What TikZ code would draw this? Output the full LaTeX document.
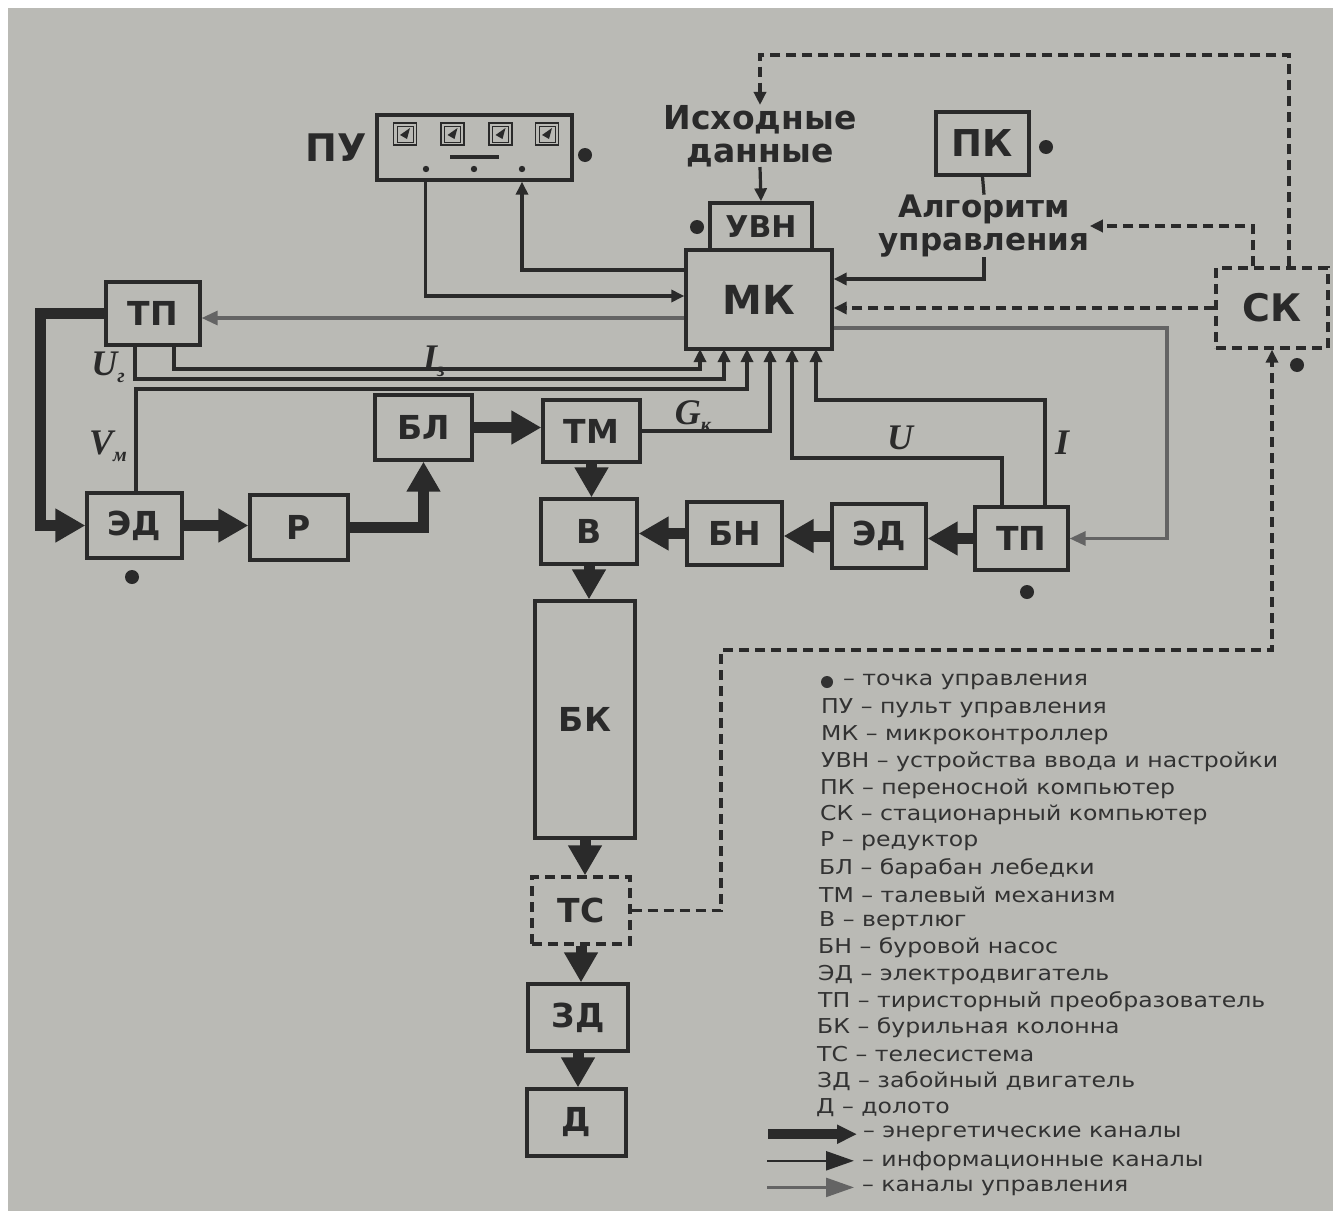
\documentclass[tikz,border=0pt]{standalone}
\usepackage{fontspec}
\setmainfont{DejaVu Sans}
\newfontfamily\varfont{Liberation Serif}
\newfontfamily\legfont{DejaVu Sans}
\usetikzlibrary{arrows.meta,calc}
\definecolor{paper}{RGB}{186,186,181}
\definecolor{ink}{RGB}{42,42,42}
\definecolor{ctrl}{RGB}{100,100,100}
\definecolor{legink}{RGB}{50,50,50}
\newcommand{\vlab}[2]{{\varfont\bfseries\itshape\fontsize{36}{36}\selectfont #1\raisebox{-7pt}{\fontsize{20}{20}\selectfont #2}}}
\newcommand{\legtext}[1]{\scalebox{1.15}[1]{\legfont\fontsize{20.5}{20.5}\selectfont #1}}
\begin{document}
\begin{tikzpicture}[x=1pt,y=-1pt,
  blk/.style={draw=ink,line width=3.3pt,fill=paper,inner sep=0pt,text=ink,
     font=\bfseries\fontsize{33}{33}\selectfont},
  dblk/.style={blk,dash pattern=on 10pt off 6pt},
  info/.style={draw=ink,line width=3.2pt,-{Triangle[length=13pt,width=12pt]}},
  ctl/.style={draw=ctrl,line width=3.2pt,-{Triangle[length=16pt,width=14pt]}},
  dsh/.style={draw=ink,line width=3.4pt,dash pattern=on 10pt off 6pt,-{Triangle[length=13pt,width=12pt]}},
  energy/.style={draw=ink,line width=11pt,-{Triangle[length=30pt,width=32pt]}},
  txt/.style={inner sep=0pt,text=ink},
  big/.style={txt,font=\bfseries\fontsize{33}{33}\selectfont,align=center},
  var/.style={txt},
  leg/.style={inner sep=0pt,anchor=west,text=legink},
  cdot/.style={fill=ink}
]
\useasboundingbox (0,0) rectangle (1341,1218);
\fill[white] (0,0) rectangle (1341,1218);
\fill[paper] (8,8) rectangle (1333,1211);

% ---------- blocks ----------
\node[blk,minimum width=195pt,minimum height=65pt] (pu) at (474.5,147.5) {};
\node[blk,minimum width=102pt,minimum height=47pt,font=\bfseries\fontsize{30}{30}\selectfont] (uvn) at (761,226.5) {УВН};
\node[blk,minimum width=146pt,minimum height=99pt,font=\bfseries\fontsize{40}{40}\selectfont] (mk) at (759,299.5) {МК};
\node[blk,minimum width=93pt,minimum height=63pt,font=\bfseries\fontsize{37}{37}\selectfont] (pk) at (982.5,143.5) {ПК};
\node[dblk,minimum width=112pt,minimum height=80pt,font=\bfseries\fontsize{38}{38}\selectfont] (sk) at (1272,308) {СК};
\node[blk,minimum width=94pt,minimum height=63pt] (tp1) at (153,313.5) {ТП};
\node[blk,minimum width=97pt,minimum height=65pt] (bl) at (423.5,427.5) {БЛ};
\node[blk,minimum width=97pt,minimum height=62pt] (tm) at (591.5,431) {ТМ};
\node[blk,minimum width=95pt,minimum height=65pt] (ed1) at (134.5,525.5) {ЭД};
\node[blk,minimum width=98pt,minimum height=65pt] (r) at (299,527.5) {Р};
\node[blk,minimum width=96pt,minimum height=65pt] (b) at (589,531.5) {В};
\node[blk,minimum width=95pt,minimum height=63pt] (bn) at (734.5,533.5) {БН};
\node[blk,minimum width=94pt,minimum height=64pt] (ed2) at (879,536) {ЭД};
\node[blk,minimum width=93pt,minimum height=63pt] (tp2) at (1021.5,538.5) {ТП};
\node[blk,minimum width=100pt,minimum height=237pt] (bk) at (585,719.5) {БК};
\node[dblk,minimum width=98pt,minimum height=67pt] (ts) at (581,910.5) {ТС};
\node[blk,minimum width=100pt,minimum height=67pt] (zd) at (578,1017.5) {ЗД};
\node[blk,minimum width=99pt,minimum height=67pt] (d) at (576.5,1122.5) {Д};

% ПУ panel details
\foreach \cx in {405,452.5,500.5,547} {
  \draw[ink,line width=1.8pt] (\cx-11.5,123) rectangle (\cx+11.5,145);
  \draw[ink,line width=0.8pt] (\cx-8,126) rectangle (\cx+8,142);
  \fill[ink] (\cx+5,128) -- (\cx-5,135) -- (\cx+2,139) -- cycle;
}
\draw[ink,line width=3.5pt] (450,157) -- (499,157);
\foreach \cx in {426,474,522} \fill[ink] (\cx,169) circle (3.2pt);

% ---------- texts ----------
\node[txt,font=\bfseries\fontsize{38}{38}\selectfont] (pulab) at (336,148) {ПУ};
\node[big] (ish) at (760,136) {Исходные\\данные};
\node[big,font=\bfseries\fontsize{31}{33}\selectfont] (alg) at (984,226) {Алгоритм\\управления};

\node[var] (lUr) at (108,367) {\vlab{U}{г}};
\node[var] (lIz) at (434,361) {\vlab{I}{з}};
\node[var] (lVm) at (108,446) {\vlab{V}{м}};
\node[var] (lGk) at (693,416) {\vlab{G}{к}};
\node[var] (lU) at (900,441) {\vlab{U}{}};
\node[var] (lI) at (1062,446) {\vlab{I}{}};

% control points (dots)
\fill[cdot] (585,155) circle (7pt);
\fill[cdot] (697,227) circle (7pt);
\fill[cdot] (1046,147) circle (7pt);
\fill[cdot] (1297,365) circle (7pt);
\fill[cdot] (132,577) circle (7pt);
\fill[cdot] (1027,592) circle (7pt);

% ---------- MK bottom inputs ----------
\coordinate (mkb1) at (700,349);
\coordinate (mkb2) at (724,349);
\coordinate (mkb3) at (747,349);
\coordinate (mkb4) at (770,349);
\coordinate (mkb5) at (792,349);
\coordinate (mkb6) at (816,349);

% information channels
\draw[info] ([xshift=-49pt]pu.south) |- (mk.west |- 0,296);
\draw[info] (mk.west |- 0,270) -| ([xshift=47.5pt]pu.south);
\draw[info] (ish.south) -- (uvn.north);
\draw[draw=ink,line width=3.2pt] (pk.south) -- (alg.north);
\draw[info] (alg.south) |- (mk.east |- 0,279);
\draw[info] ([xshift=21pt]tp1.south) |- (mkb1 |- 0,369) -- (mkb1);
\draw[info] ([xshift=-18pt]tp1.south) |- (mkb2 |- 0,379) -- (mkb2);
\draw[info] ([xshift=1.5pt]ed1.north) |- (mkb3 |- 0,389) -- (mkb3);
\draw[info] (tm.east) -| (mkb4);
\draw[info] ([xshift=-19.5pt]tp2.north) |- (mkb5 |- 0,458) -- (mkb5);
\draw[info] ([xshift=23.5pt]tp2.north) |- (mkb6 |- 0,400) -- (mkb6);

% control channels
\draw[ctl] (mk.west |- 0,318) -- (tp1.east |- 0,318);
\draw[ctl] (mk.east |- 0,328) -- (1167,328) |- (tp2.east);

% dashed (computer links)
\draw[dsh] (sk.west) -- (mk.east |- sk.west);
\draw[dsh] ([xshift=-19pt]sk.north) |- (alg.east);
\draw[dsh] ([xshift=17pt]sk.north) |- (ish.north |- 0,55) -- (ish.north);
\draw[dsh] (ts.east) -| (721,650) -| (sk.south);

% energy channels
\draw[energy] (tp1.west) -- ++(-64,0) |- (ed1.west);
\draw[energy] (ed1.east) -- (r.west |- ed1.east);
\draw[energy] (r.east) -| (bl.south);
\draw[energy] (bl.east) -- (tm.west |- bl.east);
\draw[energy] (tm.south) -- (tm.south |- b.north);
\draw[energy] (b.south) -- (b.south |- bk.north);
\draw[energy] (bk.south) -- (bk.south |- ts.north);
\draw[energy] (ts.south) -- (ts.south |- zd.north);
\draw[energy] (zd.south) -- (zd.south |- d.north);
\draw[energy] (tp2.west) -- (ed2.east |- tp2.west);
\draw[energy] (ed2.west) -- (bn.east |- ed2.west);
\draw[energy] (bn.west) -- (b.east |- bn.west);

% ---------- legend ----------
\fill[legink] (827,682) circle (6pt);
\node[leg] (g1) at (843,682) {\legtext{– точка управления}};
\node[leg] (g2) at (821,708.6) {\legtext{ПУ – пульт управления}};
\node[leg] (g3) at (821,735.2) {\legtext{МК – микроконтроллер}};
\node[leg] (g4) at (821,761.8) {\legtext{УВН – устройства ввода и настройки}};
\node[leg] (g5) at (820,788.4) {\legtext{ПК – переносной компьютер}};
\node[leg] (g6) at (820,815) {\legtext{СК – стационарный компьютер}};
\node[leg] (g7) at (820,841.6) {\legtext{Р – редуктор}};
\node[leg] (g8) at (819,868.2) {\legtext{БЛ – барабан лебедки}};
\node[leg] (g9) at (819,894.8) {\legtext{ТМ – талевый механизм}};
\node[leg] (g10) at (819,921.4) {\legtext{В – вертлюг}};
\node[leg] (g11) at (818,948) {\legtext{БН – буровой насос}};
\node[leg] (g12) at (818,974.6) {\legtext{ЭД – электродвигатель}};
\node[leg] (g13) at (818,1001.2) {\legtext{ТП – тиристорный преобразователь}};
\node[leg] (g14) at (817,1027.8) {\legtext{БК – бурильная колонна}};
\node[leg] (g15) at (817,1054.4) {\legtext{ТС – телесистема}};
\node[leg] (g16) at (817,1081) {\legtext{ЗД – забойный двигатель}};
\node[leg] (g17) at (816,1107.6) {\legtext{Д – долото}};
\node[leg] (g18) at (863,1134.2) {\legtext{– энергетические каналы}};
\node[leg] (g19) at (862,1160.8) {\legtext{– информационные каналы}};
\node[leg] (g20) at (862,1187.4) {\legtext{– каналы управления}};
\coordinate (la1) at (768,1134.2);
\coordinate (la2) at (857,1134.2);
\coordinate (lb1) at (767,1160.8);
\coordinate (lb2) at (854,1160.8);
\coordinate (lc1) at (767,1187.4);
\coordinate (lc2) at (854,1187.4);
\draw[draw=ink,line width=10pt,-{Triangle[length=20pt,width=18pt]}] (la1) -- (la2);
\draw[draw=ink,line width=2.4pt,-{Triangle[length=28pt,width=19pt]}] (lb1) -- (lb2);
\draw[draw=ctrl,line width=2.4pt,-{Triangle[length=28pt,width=19pt]}] (lc1) -- (lc2);
\end{tikzpicture}
\end{document}
